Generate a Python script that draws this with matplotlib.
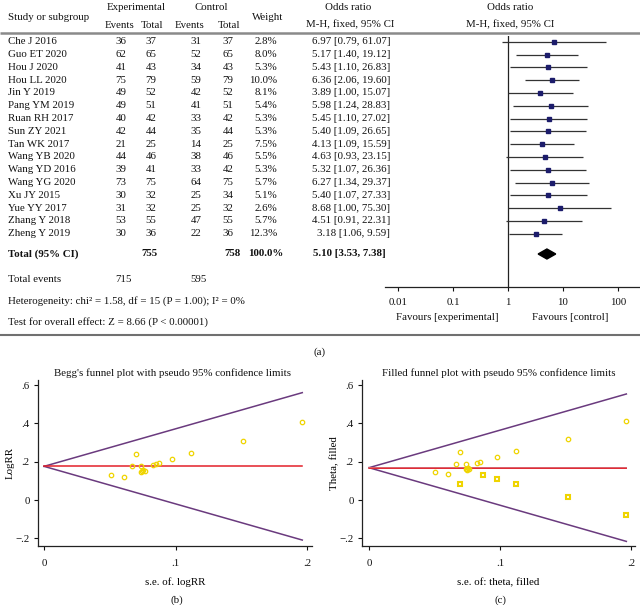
import numpy as np
import matplotlib
matplotlib.use("Agg")
import matplotlib.pyplot as plt

plt.rcParams['font.family'] = ['Liberation Serif', 'DejaVu Serif']

# ---- forest plot data (a) ----
studies = ["Che J 2016", "Guo ET 2020", "Hou J 2020", "Hou LL 2020", "Jin Y 2019",
           "Pang YM 2019", "Ruan RH 2017", "Sun ZY 2021", "Tan WK 2017", "Wang YB 2020",
           "Wang YD 2016", "Wang YG 2020", "Xu JY 2015", "Yue YY 2017", "Zhang Y 2018",
           "Zheng Y 2019"]
exp_events = [36, 62, 41, 75, 49, 49, 40, 42, 21, 44, 39, 73, 30, 31, 53, 30]
exp_total = [37, 65, 43, 79, 52, 51, 42, 44, 25, 46, 41, 75, 32, 32, 55, 36]
ctrl_events = [31, 52, 34, 59, 42, 41, 33, 35, 14, 38, 33, 64, 25, 25, 47, 22]
ctrl_total = [37, 65, 43, 79, 52, 51, 42, 44, 25, 46, 42, 75, 34, 32, 55, 36]
weights = [2.8, 8.0, 5.3, 10.0, 8.1, 5.4, 5.3, 5.3, 7.5, 5.5, 5.3, 5.7, 5.1, 2.6, 5.7, 12.3]
or_est = [6.97, 5.17, 5.43, 6.36, 3.89, 5.98, 5.45, 5.40, 4.13, 4.63, 5.32, 6.27, 5.40, 8.68, 4.51, 3.18]
or_lo = [0.79, 1.40, 1.10, 2.06, 1.00, 1.24, 1.10, 1.09, 1.09, 0.93, 1.07, 1.34, 1.07, 1.00, 0.91, 1.06]
or_hi = [61.07, 19.12, 26.83, 19.60, 15.07, 28.83, 27.02, 26.65, 15.59, 23.15, 26.36, 29.37, 27.33, 75.30, 22.31, 9.59]
total_or = [3.53, 5.10, 7.38]
forest_ticks = [0.01, 0.1, 1, 10, 100]
forest_ticklabels = ["0.01", "0.1", "1", "10", "100"]

# ---- funnel plot data (b) ----
begg_se = [0.0512, 0.0606, 0.0669, 0.0697, 0.0738, 0.0738, 0.0750, 0.0768,
           0.0745, 0.0826, 0.0849, 0.0872, 0.0976, 0.1118, 0.1513, 0.1964]
begg_logrr = [0.132, 0.120, 0.179, 0.242, 0.179, 0.146, 0.157, 0.151,
              0.152, 0.183, 0.188, 0.193, 0.216, 0.245, 0.311, 0.407]
begg_center = 0.176

# ---- filled funnel data (c) ----
fill_se = [0.0506, 0.0606, 0.0667, 0.0697, 0.0740, 0.0740, 0.0761, 0.0750,
           0.0755, 0.0824, 0.0847, 0.0980, 0.1120, 0.1517, 0.1964, 0.0745]
fill_theta = [0.144, 0.134, 0.188, 0.252, 0.188, 0.160, 0.163, 0.158,
              0.165, 0.193, 0.200, 0.226, 0.254, 0.318, 0.412, 0.162]
imputed_se = [0.0697, 0.0868, 0.0980, 0.1120, 0.1517, 0.1964]
imputed_theta = [0.085, 0.132, 0.110, 0.083, 0.016, -0.077]
fill_center = 0.169

W, H = 640, 605
fig = plt.figure(figsize=(6.4, 6.05), dpi=100)
bg = fig.add_axes([0, 0, 1, 1])
bg.set_xlim(0, W)
bg.set_ylim(H, 0)
bg.axis('off')

fs = 7.8
txt = dict(fontsize=fs, va='center', color='#111')

# header
bg.text(8, 17, "Study or subgroup", ha='left', **txt)
bg.text(136, 8, "Experimental", ha='center', **txt)
bg.text(211, 8, "Control", ha='center', **txt)
bg.text(268, 17, "Weight", ha='center', **txt)
bg.text(348, 8, "Odds ratio", ha='center', **txt)
bg.text(510, 8, "Odds ratio", ha='center', **txt)
bg.text(120, 25, "Events", ha='center', **txt)
bg.text(152, 25, "Total", ha='center', **txt)
bg.text(190, 25, "Events", ha='center', **txt)
bg.text(229, 25, "Total", ha='center', **txt)
bg.text(350, 25, "M-H, fixed, 95% CI", ha='center', **txt)
bg.text(510, 25, "M-H, fixed, 95% CI", ha='center', **txt)
bg.plot([0, W], [33, 33], color='#8a8a8a', lw=1.8, solid_capstyle='butt')

y0, dy = 41.7, 12.8
rows = y0 + dy * np.arange(len(studies))
for i, y in enumerate(rows):
    bg.text(8, y, studies[i], ha='left', **txt)
    bg.text(121, y, str(exp_events[i]), ha='center', **txt)
    bg.text(151, y, str(exp_total[i]), ha='center', **txt)
    bg.text(196, y, str(ctrl_events[i]), ha='center', **txt)
    bg.text(228, y, str(ctrl_total[i]), ha='center', **txt)
    bg.text(277, y, f"{weights[i]:.1f}%", ha='right', **txt)
    bg.text(390, y, f"{or_est[i]:.2f} [{or_lo[i]:.2f}, {or_hi[i]:.2f}]", ha='right', **txt)

ty = 254
bg.text(8, ty, "Total (95% CI)", ha='left', fontweight='bold', **txt)
bg.text(157, ty, str(sum(exp_total)), ha='right', fontweight='bold', **txt)
bg.text(241, ty, str(sum(ctrl_total)), ha='right', fontweight='bold', **txt)
bg.text(283, ty, "100.0%", ha='right', fontweight='bold', **txt)
bg.text(386, ty, f"{total_or[1]:.2f} [{total_or[0]:.2f}, {total_or[2]:.2f}]",
        ha='right', fontweight='bold', **txt)
bg.text(8, 280, "Total events", ha='left', **txt)
bg.text(123, 280, str(sum(exp_events)), ha='center', **txt)
bg.text(198, 280, str(sum(ctrl_events)), ha='center', **txt)
bg.text(8, 301, "Heterogeneity: chi\u00b2 = 1.58, df = 15 (P = 1.00); I\u00b2 = 0%", ha='left', **txt)
bg.text(8, 322, "Test for overall effect: Z = 8.66 (P < 0.00001)", ha='left', **txt)
bg.text(447, 318, "Favours [experimental]", ha='center', **txt)
bg.text(570, 318, "Favours [control]", ha='center', **txt)
bg.plot([0, W], [335, 335], color='#707070', lw=1.5, solid_capstyle='butt')
bg.text(320, 352, "(a)", ha='center', **txt)

# forest axes
top, bot, left, right = 36, 287, 385, 640
axf = fig.add_axes([left / W, (H - bot) / H, (right - left) / W, (bot - top) / H])
axf.patch.set_alpha(0)
axf.set_xscale('log')
axf.set_xlim(10 ** ((left - 508) / 55), 10 ** ((right - 508) / 55))
axf.set_ylim(bot, top)
for s in ['top', 'left', 'right']:
    axf.spines[s].set_visible(False)
axf.spines['bottom'].set_color('#222')
axf.spines['bottom'].set_linewidth(0.9)
axf.set_yticks([])
axf.set_xticks(forest_ticks)
axf.set_xticklabels(forest_ticklabels)
axf.xaxis.set_minor_locator(matplotlib.ticker.NullLocator())
axf.tick_params(axis='x', direction='out', length=3, width=0.8, pad=5, labelsize=fs, colors='#111')
axf.axvline(1, color='#222', lw=0.9)
axf.hlines(rows, or_lo, or_hi, color='#333', lw=0.9)
axf.plot(or_est, rows, 's', color='#1c1c6b', markersize=3.2)
dh = 5
axf.fill([total_or[0], total_or[1], total_or[2], total_or[1]],
         [ty, ty - dh, ty, ty + dh], color='black')

# funnel plots
yel = '#efd400'
purp = '#6a3a7e'
red = '#e3202a'
ytk = [-0.2, 0, 0.2, 0.4, 0.6]
ytkl = ["\u2212.2", "0", ".2", ".4", ".6"]
xtk = [0, 0.1, 0.2]
xtkl = ["0", ".1", ".2"]


def funnel_axes(rect, xlim):
    ax = fig.add_axes(rect)
    ax.patch.set_alpha(0)
    ax.set_xlim(*xlim)
    ax.set_ylim(-0.240, 0.627)
    for s in ['top', 'right']:
        ax.spines[s].set_visible(False)
    for s in ['left', 'bottom']:
        ax.spines[s].set_color('#222')
        ax.spines[s].set_linewidth(0.9)
    ax.set_xticks(xtk)
    ax.set_xticklabels(xtkl)
    ax.set_yticks(ytk)
    ax.set_yticklabels(ytkl)
    ax.tick_params(direction='out', length=3, width=0.8, labelsize=fs, colors='#111', pad=3)
    ax.tick_params(axis='x', pad=6)
    return ax


axb = funnel_axes([38 / W, (H - 546) / H, 274 / W, 166 / H], (-0.0046, 0.2038))
se_max = max(begg_se)
se_line = np.array([0, se_max])
axb.plot(se_line, begg_center + 1.96 * se_line, color=purp, lw=1.1)
axb.plot(se_line, begg_center - 1.96 * se_line, color=purp, lw=1.1)
axb.plot(se_line, [begg_center, begg_center], color=red, lw=1.1)
axb.plot(begg_se, begg_logrr, 'o', mfc='none', mec=yel, mew=0.9, markersize=3.2)
axb.set_xlabel("s.e. of. logRR", fontsize=fs)
axb.set_ylabel("LogRR", fontsize=fs)
axb.xaxis.set_label_coords(0.5, -0.19)
axb.yaxis.set_label_coords(-0.085, 0.5)

axc = funnel_axes([362 / W, (H - 546) / H, 273 / W, 166 / H], (-0.0053, 0.203))
se_max_c = max(fill_se)
se_line_c = np.array([0, se_max_c])
axc.plot(se_line_c, fill_center + 1.96 * se_line_c, color=purp, lw=1.1)
axc.plot(se_line_c, fill_center - 1.96 * se_line_c, color=purp, lw=1.1)
axc.plot(se_line_c, [fill_center, fill_center], color='#d8606a', lw=1.4)
axc.plot(se_line_c, [fill_center, fill_center], color=red, lw=0.6)
axc.plot(fill_se, fill_theta, 'o', mfc='none', mec=yel, mew=0.9, markersize=3.2)
axc.plot(imputed_se, imputed_theta, 's', mfc='none', mec=yel, mew=1.5, markersize=3.4)
axc.set_xlabel("s.e. of: theta, filled", fontsize=fs)
axc.set_ylabel("Theta, filled", fontsize=fs)
axc.xaxis.set_label_coords(0.5, -0.19)
axc.yaxis.set_label_coords(-0.085, 0.5)

bg.text(173, 373, "Begg's funnel plot with pseudo 95% confidence limits", ha='center', **txt)
bg.text(499, 373, "Filled funnel plot with pseudo 95% confidence limits", ha='center', **txt)
bg.text(177, 600, "(b)", ha='center', **txt)
bg.text(500, 600, "(c)", ha='center', **txt)

fig.savefig("out.png", dpi=100)
